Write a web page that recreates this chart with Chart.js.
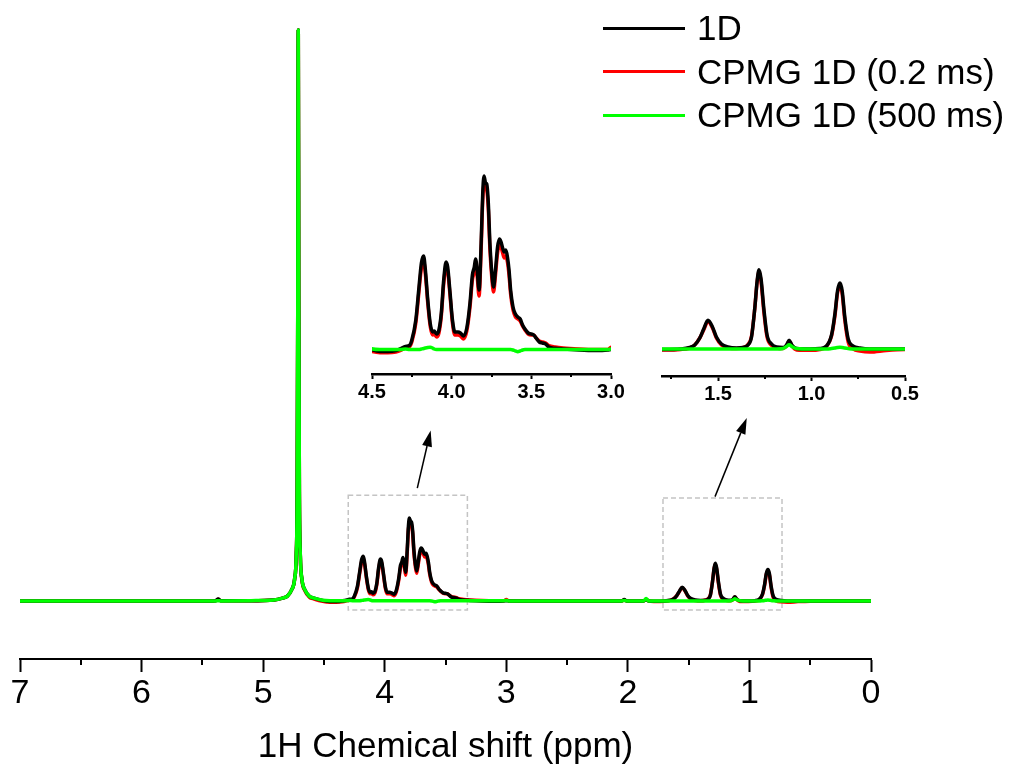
<!DOCTYPE html>
<html><head><meta charset="utf-8">
<script src="https://cdn.jsdelivr.net/npm/chart.js@4"></script>
<style>
html,body{margin:0;padding:0;background:#fff;}
#wrap{position:relative;width:1010px;height:765px;overflow:hidden;font-family:'Liberation Sans',Arial,sans-serif;background:#fff;}
canvas{position:absolute;}
.lg{position:absolute;left:603px;height:40px;display:flex;align-items:center;font-size:35px;line-height:40px;color:#000;white-space:nowrap;}
.lg i{display:inline-block;width:82px;height:3px;margin-right:12px;}
</style></head>
<body><div id="wrap">
<canvas id="main" width="1010" height="765" style="left:0;top:0"></canvas>
<canvas id="insetL" width="300" height="270" style="left:342px;top:150px"></canvas>
<canvas id="insetR" width="300" height="180" style="left:632px;top:240px"></canvas>
<div id="legend"></div>
</div>
<script>
// ---- DATA (chemical shift in ppm, intensity in arbitrary units) ----
const ppm = [
  // baseline, 5.37 bump, water peak
  7.000, 6.000, 5.450, 5.390, 5.370, 5.350, 5.100, 4.911, 4.841, 4.801, 4.766, 4.741, 4.728, 4.720, 4.715, 4.711, 4.707, 4.702, 4.694, 4.681, 4.656, 4.621, 4.581, 4.511,
  // 4.45 - 2.98 cluster
  4.450, 4.400, 4.350, 4.320, 4.290, 4.265, 4.250, 4.225, 4.205, 4.190,
  4.176, 4.165, 4.150, 4.135, 4.120, 4.110, 4.095, 4.080, 4.065, 4.050,
  4.035, 4.025, 4.010, 3.995, 3.980, 3.960, 3.945, 3.925, 3.905, 3.885,
  3.870, 3.858, 3.850, 3.840, 3.828, 3.815, 3.805, 3.797, 3.787, 3.780,
  3.770, 3.760, 3.748, 3.737, 3.725, 3.712, 3.700, 3.690, 3.680, 3.670,
  3.660, 3.650, 3.640, 3.630, 3.615, 3.600, 3.585, 3.570, 3.555, 3.540,
  3.520, 3.500, 3.485, 3.470, 3.450, 3.430, 3.410, 3.390, 3.350, 3.300,
  3.200, 3.100, 3.020, 3.000, 2.980,
  // middle region
  2.800, 2.050, 2.030, 2.010, 1.870, 1.850, 1.830, 1.786,
  // 1.7 - 0 cluster
  1.700, 1.652, 1.625, 1.598, 1.577, 1.554, 1.530, 1.509, 1.482, 1.447,
  1.402, 1.366, 1.340, 1.321, 1.304, 1.291, 1.281, 1.270, 1.255, 1.238,
  1.214, 1.187, 1.152, 1.134, 1.120, 1.105, 1.080, 1.009, 0.956, 0.920,
  0.893, 0.875, 0.861, 0.848, 0.836, 0.822, 0.804, 0.777, 0.741, 0.688,
  0.600, 0.500, 0.000
];
const spec1D = [
  0, 0, 0, 0.5, 4, 0.5, 0.5, 2, 6, 10, 23, 46, 95, 231, 630, 1199, 630, 231, 95, 46, 23, 10, 6, 1,
  -1.5, -1.5, -0.5, 1.5, 3.5, 4.5, 10, 30, 63, 87,
  94, 80, 50, 27, 18, 19, 16, 20, 37, 70,
  88, 83, 57, 30, 18, 18, 17, 14, 22, 47,
  75, 83, 91, 80, 60, 107, 157, 174, 167, 166,
  147, 107, 77, 63, 80, 103, 111, 108, 102, 98,
  100, 93, 80, 60, 43, 36, 33, 31, 25, 21,
  17, 16, 15, 12, 8, 7, 6, 3, 1.7, 1,
  0, -0.5, 0, 0.5, 0,
  0, 0, 3, 0, 0, 3, 0, -0.5,
  0, 1.5, 4, 11, 20, 28.7, 22, 12, 5, 2,
  1, 1.5, 4, 12, 40, 68, 79.3, 70, 40, 14,
  5, 2, 1.5, 4, 8.7, 4, 0.5, 0, 0.5, 3,
  14, 35, 58, 66, 58, 32, 10, 3, 1, 0,
  0, 0, 0
];
const cpmg02 = [
  0, 0, 0, 0.5, 3.5, 0.5, 0.5, 2, 6, 10, 23, 46, 95, 231, 630, 1199, 630, 231, 93, 44, 21, 8, 4, -1,
  -2.7, -2.7, -2, -0.5, 2, 3, 8, 27, 59, 82,
  89, 76, 47, 24, 15, 16, 13, 17, 34, 66,
  83, 79, 54, 27, 15, 15, 14, 11, 19, 43,
  70, 78, 86, 74, 54, 101, 150, 165, 162, 160,
  141, 101, 72, 58, 75, 97, 105, 103, 97, 92,
  94, 88, 75, 56, 40, 33, 31, 29, 24, 20,
  16, 15, 15, 12, 9, 8, 7, 4.5, 3, 2,
  1, 0.5, 0.5, 2.7, 0.5,
  0, 0, 2, 0, 0, 3, 0, -1,
  -0.5, 1, 4, 11, 19, 27.5, 21, 11, 4, 1,
  0.5, 1.5, 4.5, 13, 40, 67, 77, 67, 37, 12,
  3.5, 1, 0.5, 3, 8, 3, -1, -1.3, -0.5, 2.5,
  13, 33, 56, 63, 55, 29, 7, 0, -2, -3,
  -1.5, -0.5, 0
];
const cpmg500 = [
  0, 0, 0, 0, 0.5, 0, 0.5, 2, 6, 10, 23, 46, 95, 231, 630, 1199, 630, 231, 95, 46, 23, 10, 6, 1.5,
  0.5, 0.5, 0.5, 0.5, 1, 0.5, 0.5, 0.5, 0.5, 1,
  1.5, 2, 2.5, 2.7, 2, 1, 0.5, 0.5, 0.5, 0.5,
  0.5, 0.5, 0.5, 0.5, 0.5, 0.5, 0.5, 0.5, 0.5, 0.5,
  0.5, 0.5, 0.5, 0.5, 0.5, 0.5, 0.5, 0.5, 0.5, 0.5,
  0.5, 0.5, 0.5, 0.5, 0.5, 0.5, 0.5, 0.5, 0.5, 0.5,
  0.5, 0.5, 0.5, 0.5, 0, -1, -1.7, -1, 0, 0.5,
  0.5, 0.5, 0.5, 0.5, 0.5, 0.5, 0.5, 0.5, 0.5, 0.5,
  0.5, 0.5, 0.5, 1, 0,
  0, 0, 1, 0, 0, 5, 0, 0,
  0, 0, 0, 0, 0, 0, 0, 0, 0, 0,
  0, 0, 0, 0, 0, 0, 0, 0, 0, 0,
  0, 0, 0.5, 2.5, 4.3, 2.5, 0.5, 0, 0, 0,
  0.5, 1, 1.5, 1.7, 1.5, 1, 0.5, 0, 0, 0,
  0, 0, 0
];
const seriesNames = ['1D', 'CPMG 1D (0.2 ms)', 'CPMG 1D (500 ms)'];
const seriesColors = ['#000000', '#ff0000', '#00ff00'];
const mainMajorTicks = [7, 6, 5, 4, 3, 2, 1, 0];
const mainMinorTicks = [6.5, 5.5, 4.5, 3.5, 2.5, 1.5, 0.5];
const leftMajorTicks = [4.5, 4.0, 3.5, 3.0];
const leftMinorTicks = [4.25, 3.75, 3.25];
const rightMajorTicks = [1.5, 1.0, 0.5];
const rightMinorTicks = [1.75, 1.25, 0.75];
const axisTitle = '1H Chemical shift (ppm)';
// zoom-region annotations (data coordinates: ppm, intensity)
const zoomRegions = [
  { from: 4.30, to: 3.32, top: 222, bottom: -19, arrowFrom: [3.732, 237], arrowTo: [3.622, 358] },
  { from: 1.711, to: 0.732, top: 216, bottom: -19, arrowFrom: [1.283, 219], arrowTo: [1.022, 384] }
];

Chart.defaults.font.family = "'Liberation Sans', Arial, sans-serif";
Chart.defaults.color = '#000';

function makeDatasets(lw) {
  const vals = [spec1D, cpmg02, cpmg500];
  const order = [1, 2, 0];
  return vals.map((v, i) => ({
    label: seriesNames[i],
    data: ppm.map((x, j) => ({ x: x, y: v[j] })),
    borderColor: seriesColors[i],
    backgroundColor: seriesColors[i],
    borderWidth: lw,
    pointRadius: 0,
    fill: false,
    cubicInterpolationMode: 'monotone',
    borderJoinStyle: 'round',
    order: order[i]
  }));
}

const minorTickPlugin = {
  id: 'minorTicks',
  afterDraw(chart, args, opts) {
    const sc = chart.scales.x, ctx = chart.ctx;
    ctx.save();
    ctx.strokeStyle = '#000';
    ctx.lineWidth = opts.width;
    opts.values.forEach(v => {
      const px = Math.round(sc.getPixelForValue(v));
      ctx.beginPath();
      ctx.moveTo(px, sc.top);
      ctx.lineTo(px, sc.top + opts.length);
      ctx.stroke();
    });
    ctx.restore();
  }
};

const zoomMarkPlugin = {
  id: 'zoomMarks',
  beforeDatasetsDraw(chart) {
    const { x, y } = chart.scales, ctx = chart.ctx;
    ctx.save();
    ctx.setLineDash([5, 3]);
    ctx.strokeStyle = '#c4c4c4';
    ctx.lineWidth = 1.5;
    zoomRegions.forEach(r => {
      const l = x.getPixelForValue(r.from), rr = x.getPixelForValue(r.to);
      const t = y.getPixelForValue(r.top), b = y.getPixelForValue(r.bottom);
      ctx.strokeRect(l, t, rr - l, b - t);
    });
    ctx.restore();
  },
  afterDatasetsDraw(chart) {
    const { x, y } = chart.scales, ctx = chart.ctx;
    ctx.save();
    ctx.strokeStyle = '#000';
    ctx.fillStyle = '#000';
    ctx.lineWidth = 1.5;
    zoomRegions.forEach(r => {
      const x0 = x.getPixelForValue(r.arrowFrom[0]), y0 = y.getPixelForValue(r.arrowFrom[1]);
      const x1 = x.getPixelForValue(r.arrowTo[0]), y1 = y.getPixelForValue(r.arrowTo[1]);
      const a = Math.atan2(y1 - y0, x1 - x0);
      const hl = 16, hw = 5;
      const bx = x1 - hl * Math.cos(a), by = y1 - hl * Math.sin(a);
      ctx.beginPath(); ctx.moveTo(x0, y0); ctx.lineTo(bx, by); ctx.stroke();
      ctx.beginPath();
      ctx.moveTo(x1, y1);
      ctx.lineTo(bx + hw * Math.sin(a), by - hw * Math.cos(a));
      ctx.lineTo(bx - hw * Math.sin(a), by + hw * Math.cos(a));
      ctx.closePath(); ctx.fill();
    });
    ctx.restore();
  }
};

new Chart(document.getElementById('main'), {
  type: 'line',
  data: { datasets: makeDatasets(3.5) },
  options: {
    responsive: false, animation: false, devicePixelRatio: 1,
    layout: { padding: { left: 20, right: 139, top: 0, bottom: 0 } },
    plugins: {
      legend: { display: false }, tooltip: { enabled: false },
      minorTicks: { values: mainMinorTicks, length: 6, width: 2 }
    },
    scales: {
      x: {
        type: 'linear', reverse: true, min: 0, max: 7,
        afterBuildTicks: s => { s.ticks = mainMajorTicks.map(v => ({ value: v })); },
        afterFit: s => { s.height = 106; },
        grid: { display: true, drawOnChartArea: false, drawTicks: true, tickLength: 13, tickWidth: 2, tickColor: '#000' },
        border: { display: true, color: '#000', width: 2 },
        ticks: { font: { size: 34 }, padding: 1, maxRotation: 0, autoSkip: false, color: '#000', callback: v => String(v) },
        title: { display: true, text: axisTitle, font: { size: 35 }, color: '#000', padding: { top: 0, bottom: -3 } }
      },
      y: { display: false, min: -122, max: 1262 }
    }
  },
  plugins: [minorTickPlugin, zoomMarkPlugin]
});

function insetChart(id, min, max, majors, minors, yMin, yMax, axisH, pad) {
  new Chart(document.getElementById(id), {
    type: 'line',
    data: { datasets: makeDatasets(3.5) },
    options: {
      responsive: false, animation: false, devicePixelRatio: 1,
      layout: { padding: pad },
      plugins: {
        legend: { display: false }, tooltip: { enabled: false },
        minorTicks: { values: minors, length: 3, width: 2 }
      },
      scales: {
        x: {
          type: 'linear', reverse: true, min: min, max: max,
          afterBuildTicks: s => { s.ticks = majors.map(v => ({ value: v })); },
          afterFit: s => { s.height = axisH; },
          grid: { display: true, drawOnChartArea: false, drawTicks: true, tickLength: 5, tickWidth: 2, tickColor: '#000' },
          border: { display: true, color: '#000', width: 2.5 },
          ticks: { font: { size: 20, weight: 'bold' }, padding: 1, maxRotation: 0, autoSkip: false, color: '#000', callback: v => Number(v).toFixed(1) }
        },
        y: { display: false, min: yMin, max: yMax }
      }
    },
    plugins: [minorTickPlugin]
  });
}
insetChart('insetL', 3.0, 4.5, leftMajorTicks, leftMinorTicks, -24, 190, 46, { left: 30, right: 31, top: 10, bottom: 0 });
insetChart('insetR', 0.5, 1.8, rightMajorTicks, rightMinorTicks, -27, 99, 44, { left: 30, right: 27, top: 10, bottom: 0 });

// legend (HTML text)
const lg = document.getElementById('legend');
seriesNames.forEach((n, i) => {
  const row = document.createElement('div');
  row.className = 'lg';
  row.style.top = (8 + i * 43.6) + 'px';
  const sw = document.createElement('i');
  sw.style.background = seriesColors[i];
  row.appendChild(sw);
  const t = document.createElement('span');
  t.textContent = n;
  row.appendChild(t);
  lg.appendChild(row);
});
</script>
</body></html>
